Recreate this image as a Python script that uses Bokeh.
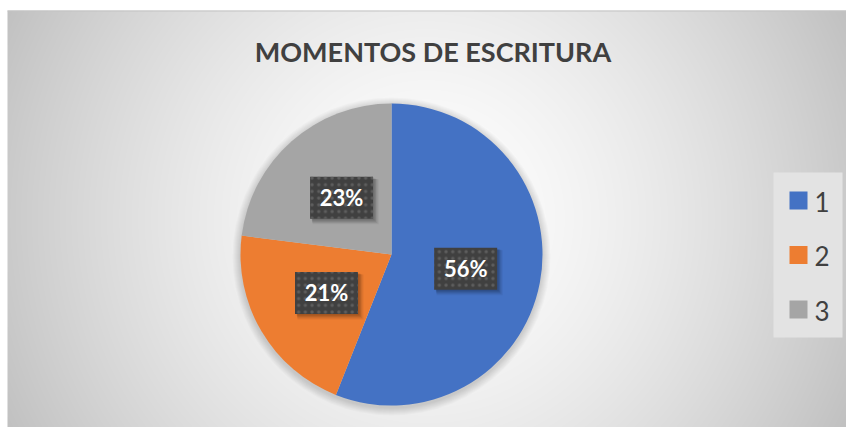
import numpy as np
from bokeh.plotting import figure
from bokeh.models import Range1d, ColumnDataSource
from bokeh.core.properties import value
from bokeh.embed import file_html
from bokeh.resources import INLINE

# ---- data ----
title_text = "MOMENTOS DE ESCRITURA"
categories = ["1", "2", "3"]
values = [56, 21, 23]
colors = ["#4472C4", "#ED7D31", "#A5A5A5"]

W, H = 846, 427

def px(xp):  # page x -> data x
    return xp

def py(yp):  # page y -> data y
    return H - yp

p = figure(width=W, height=H, output_backend="svg", toolbar_location=None,
           x_range=Range1d(0, W), y_range=Range1d(0, H),
           x_axis_type=None, y_axis_type=None, min_border=0,
           background_fill_color="white", border_fill_color="white",
           outline_line_color=None)
p.grid.visible = False

# ---- radial gradient background (chart area page x 7..846, y 10..427) ----
gx0, gtop = 7, 10
gw, gh = W - gx0, H - gtop
cx, cy = px(426) - gx0, py(218)
yy, xx = np.mgrid[0:gh, 0:gw]
d = np.sqrt((xx + 0.5 - cx) ** 2 + (yy + 0.5 - cy) ** 2)
t = np.clip(d / d.max(), 0, 1)
g = (255 - 62 * t ** 1.5).astype(np.uint32)
img = (255 << 24) | (g << 16) | (g << 8) | g
p.image_rgba(image=[img.view(np.uint32)], x=gx0, y=0, dw=gw, dh=gh)
p.line([gx0, W], [gh - 0.5, gh - 0.5], line_color="#c4c4c4", line_width=1)

# ---- pie ----
pcx, pcy, R = px(391), py(254), 151
for i in range(1, 9):
    p.circle(x=pcx, y=pcy - 2, radius=R + i, fill_color="black", fill_alpha=0.018,
             line_color=None)

fr = np.array(values, dtype=float) / sum(values)
cum = np.concatenate([[0], np.cumsum(fr)])
starts = np.pi / 2 - 2 * np.pi * cum[:-1]
ends = np.pi / 2 - 2 * np.pi * cum[1:]
src = ColumnDataSource(dict(start=starts, end=ends, color=colors))
p.wedge(x=pcx, y=pcy, radius=R, start_angle="start", end_angle="end",
        direction="clock", fill_color="color", line_color=None, source=src)

# ---- data labels ----
mid = (starts + ends) / 2
lr = 75.5
lx = pcx + lr * np.cos(mid)
ly = pcy + lr * np.sin(mid)
labels = [f"{v}%" for v in values]
bw, bh = 63, 42
for k, a in [(2, 0.10), (3, 0.10), (4, 0.08), (5, 0.06)]:
    p.rect(x=lx + k * 0.8, y=ly - k * 0.8, width=bw + k - 2, height=bh + k - 2,
           fill_color="black", fill_alpha=a, line_color=None)
p.rect(x=lx, y=ly, width=bw, height=bh, fill_color="#404040", line_color=None,
       hatch_pattern="dot", hatch_color="#5e5e5e", hatch_scale=6.7, hatch_weight=2)
p.text(x=lx, y=ly, text=labels, text_color="white", text_font=value("Lato"),
       text_font_style="bold", text_font_size="22px", text_align="center",
       text_baseline="middle")

# ---- title ----
p.text(x=[px(432.5)], y=[py(51)], text=[title_text], text_color="#404040",
       text_font=value("Lato"), text_font_style="bold", text_font_size="27px",
       text_align="center", text_baseline="middle")

# ---- legend ----
p.quad(left=px(773), right=px(842), bottom=py(337), top=py(172),
       fill_color="#e3e3e3", line_color=None)
ly_leg = py(200) - 54.5 * np.arange(len(categories))
p.rect(x=px(798), y=ly_leg, width=18, height=18, fill_color=colors, line_color=None)
p.text(x=px(814), y=ly_leg - 1, text=categories, text_color="#404040",
       text_font=value("Lato"), text_font_size="26px", text_align="left",
       text_baseline="middle")

open("out.html", "w").write(file_html(p, INLINE))
